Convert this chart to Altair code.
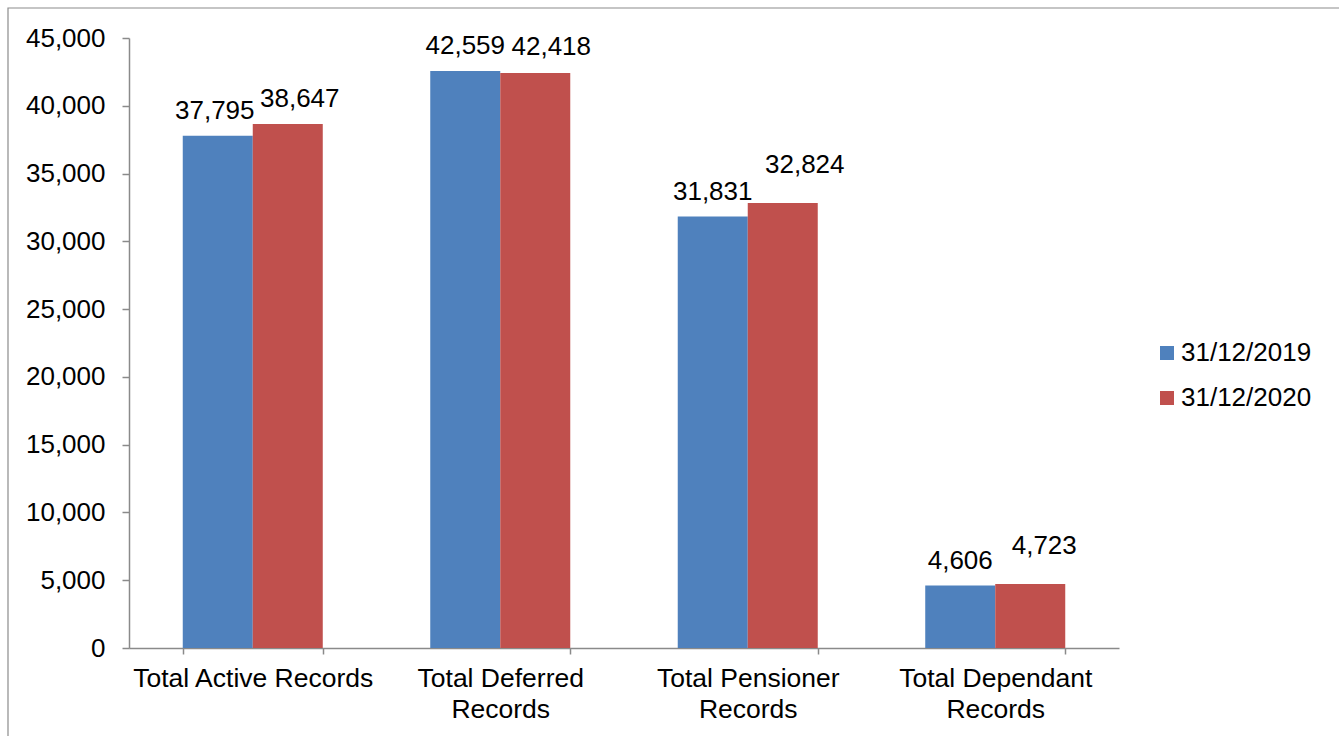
import altair as alt
import pandas as pd

# Membership record counts at two year-ends
categories = [
    "Total Active Records",
    "Total Deferred Records",
    "Total Pensioner Records",
    "Total Dependant Records",
]
periods = ["31/12/2019", "31/12/2020"]
records_2019 = [37795, 42559, 31831, 4606]
records_2020 = [38647, 42418, 32824, 4723]
y_ticks = [0, 5000, 10000, 15000, 20000, 25000, 30000, 35000, 40000, 45000]

rows = []
for cat, a, b in zip(categories, records_2019, records_2020):
    rows.append({"category": cat, "period": periods[0], "records": a})
    rows.append({"category": cat, "period": periods[1], "records": b})
df = pd.DataFrame(rows)

# Hand-placed data labels: (dx, dy) shift from the default spot above the bar
DEFAULT_NUDGE = (0, -17)
label_nudges = {
    ("Total Active Records", "31/12/2019"): (-3, -17),
    ("Total Active Records", "31/12/2020"): (12, -17),
    ("Total Deferred Records", "31/12/2020"): (16, -18),
    ("Total Pensioner Records", "31/12/2020"): (22, -30),
    ("Total Dependant Records", "31/12/2020"): (14, -30),
}

FONT = "Liberation Sans"
AXIS_GREY = "#8a8a8a"

x_enc = alt.X(
    "category:N",
    sort=categories,
    title=None,
    scale=alt.Scale(paddingInner=0.4343, paddingOuter=0.2172),
    axis=alt.Axis(
        labelAngle=0,
        labelFont=FONT,
        labelFontSize=26.5,
        labelColor="black",
        labelLimit=400,
        labelLineHeight=31,
        labelPadding=11,
        labelExpr=(
            "!datum.value ? '' : "
            "datum.value == 'Total Active Records' ? datum.value : "
            "[replace(datum.value, ' Records', ''), 'Records']"
        ),
        tickBand="extent",
        tickSize=6,
        tickColor=AXIS_GREY,
        tickWidth=1.5,
        domainColor=AXIS_GREY,
        domainWidth=1.5,
    ),
)
xoff_enc = alt.XOffset(
    "period:N", sort=periods, scale=alt.Scale(paddingInner=0, paddingOuter=0)
)
y_enc = alt.Y(
    "records:Q",
    title=None,
    scale=alt.Scale(domain=[0, 45000], nice=False),
    axis=alt.Axis(
        values=y_ticks,
        format=",d",
        grid=False,
        labelFont=FONT,
        labelFontSize=26,
        labelColor="black",
        labelPadding=17,
        tickSize=7,
        tickColor=AXIS_GREY,
        tickWidth=1.5,
        domainColor=AXIS_GREY,
        domainWidth=1.5,
    ),
)

base = alt.Chart(df)

bars = base.mark_bar().encode(
    x=x_enc,
    xOffset=xoff_enc,
    y=y_enc,
    color=alt.Color(
        "period:N",
        sort=periods,
        scale=alt.Scale(domain=periods, range=["#4F81BD", "#C0504D"]),
        legend=alt.Legend(
            title=None,
            orient="none",
            legendX=1025,
            legendY=302,
            symbolType="square",
            symbolSize=196,
            symbolStrokeWidth=0,
            labelFont=FONT,
            labelFontSize=26,
            labelColor="black",
            labelOffset=1,
            rowPadding=19,
        ),
    ),
)


def label_layer(dx, dy, filter_expr):
    return base.mark_text(
        dx=dx, dy=dy, baseline="alphabetic", font=FONT, fontSize=26, color="black"
    ).encode(
        x=alt.X("category:N", sort=categories),
        xOffset=alt.XOffset("period:N", sort=periods),
        y="records:Q",
        text=alt.Text("records:Q", format=",d"),
    ).transform_filter(filter_expr)


def match_expr(keys):
    return " || ".join(
        f"(datum.category == '{c}' && datum.period == '{p}')" for c, p in keys
    )


# One text layer per distinct placement
label_layers = [
    label_layer(*DEFAULT_NUDGE, f"!({match_expr(label_nudges.keys())})")
]
for nudge in sorted(set(label_nudges.values())):
    keys = [k for k, v in label_nudges.items() if v == nudge]
    label_layers.append(label_layer(nudge[0], nudge[1], match_expr(keys)))

# Thin outline of the chart area
frame = alt.Chart(pd.DataFrame({"frame": [0]})).mark_rect(
    fillOpacity=0, stroke="#8c8c8c", strokeWidth=1.2
).encode(
    x=alt.value(-121), x2=alt.value(1400), y=alt.value(-30), y2=alt.value(900)
)

chart = (
    alt.layer(frame, bars, *label_layers)
    .properties(
        width=990,
        height=610,
        background="white",
        autosize=alt.AutoSizeParams(type="none"),
        padding={"left": 129, "top": 38, "right": 220, "bottom": 88},
    )
    .configure_view(strokeWidth=0, stroke="transparent")
)

chart.save("out.html", embed_options={"renderer": "svg", "actions": False})
